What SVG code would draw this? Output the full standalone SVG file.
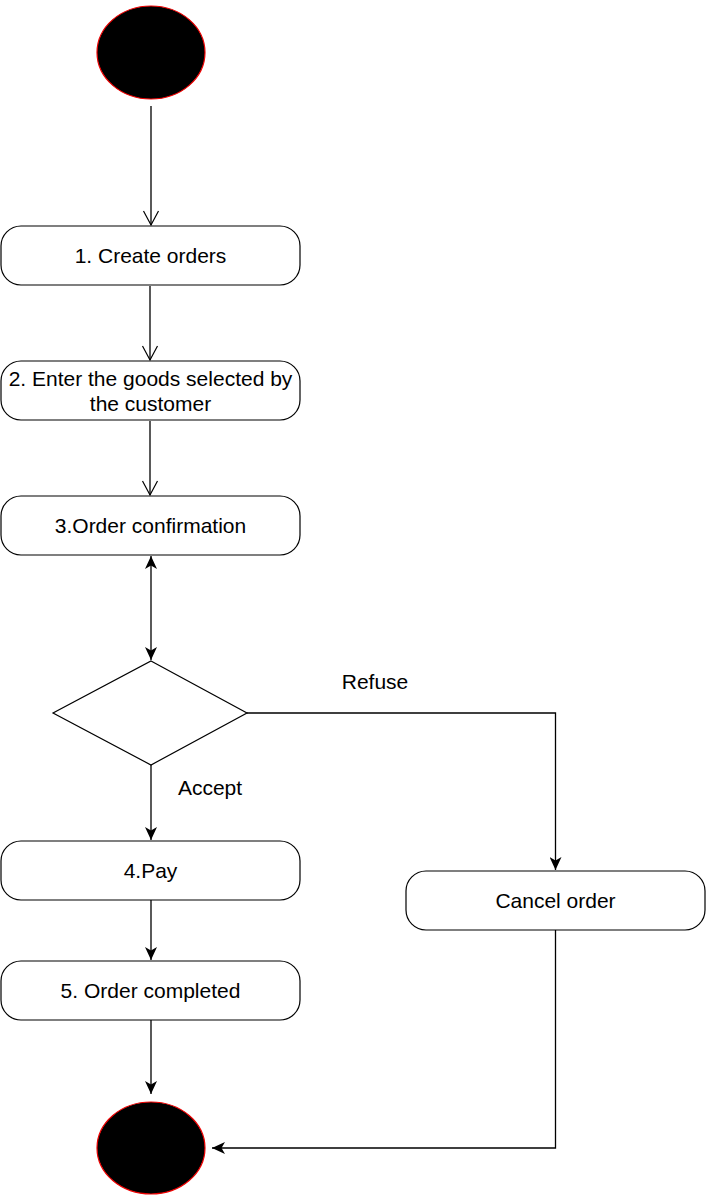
<svg xmlns="http://www.w3.org/2000/svg" width="707" height="1202" viewBox="0 0 707 1202">
<style>
.box{fill:#fff;stroke:#000;stroke-width:1.2}
.term{fill:#000;stroke:#e00;stroke-width:1.2}
.lbl{font-family:"Liberation Sans",Arial,sans-serif;font-size:21px;fill:#000;text-anchor:middle}
.edge{fill:none;stroke:#000;stroke-width:1.3}
</style>
<defs>
<marker id="open" markerUnits="userSpaceOnUse" viewBox="-1 -1 16 17" refX="14" refY="7.5" markerWidth="16" markerHeight="17" orient="auto" overflow="visible">
<path d="M0,0 L14,7.5 L0,15" fill="none" stroke="#000" stroke-width="1.2"/>
</marker>
<marker id="filled" markerUnits="userSpaceOnUse" viewBox="0 0 13 12" refX="13" refY="6" markerWidth="13" markerHeight="12" orient="auto-start-reverse">
<path d="M0,0 L13,6 L0,12 L3.5,6 Z" fill="#000"/>
</marker>
</defs>
<rect width="707" height="1202" fill="#fff"/>
<g id="connectors">
<path class="edge" d="M151,106 L151,225" marker-end="url(#open)"/>
<path class="edge" d="M150,286 L150,360" marker-end="url(#open)"/>
<path class="edge" d="M150,421 L150,495" marker-end="url(#open)"/>
<path class="edge" d="M151,556 L151,660" marker-start="url(#filled)" marker-end="url(#filled)"/>
<path class="edge" d="M151,765 L151,840" marker-end="url(#filled)"/>
<path class="edge" d="M247,713 L555.5,713 L555.5,870" marker-end="url(#filled)"/>
<path class="edge" d="M151,900 L151,960" marker-end="url(#filled)"/>
<path class="edge" d="M151,1020 L151,1094" marker-end="url(#filled)"/>
<path class="edge" d="M555.5,930 L555.5,1148 L212,1148" marker-end="url(#filled)"/>
<text class="lbl" x="375" y="689">Refuse</text>
<text class="lbl" x="210" y="795">Accept</text>
</g>
<g id="start"><ellipse class="term" cx="151" cy="52.5" rx="54" ry="46.5"/></g>
<g id="create"><rect class="box" x="1" y="226" width="299" height="59" rx="20"/><text class="lbl" x="150.5" y="263">1. Create orders</text></g>
<g id="enter"><rect class="box" x="1" y="361" width="299" height="59" rx="20"/><text class="lbl" x="150.5" y="386">2. Enter the goods selected by</text><text class="lbl" x="150.5" y="411">the customer</text></g>
<g id="confirm"><rect class="box" x="1" y="496" width="299" height="59" rx="20"/><text class="lbl" x="150.5" y="533">3.Order confirmation</text></g>
<g id="decision"><polygon class="box" points="151,661 247,713 151,765 53,713"/></g>
<g id="pay"><rect class="box" x="1" y="841" width="299" height="59" rx="20"/><text class="lbl" x="150.5" y="878">4.Pay</text></g>
<g id="completed"><rect class="box" x="1" y="961" width="299" height="59" rx="20"/><text class="lbl" x="150.5" y="998">5. Order completed</text></g>
<g id="cancel"><rect class="box" x="406" y="871" width="299" height="59" rx="20"/><text class="lbl" x="555.5" y="908">Cancel order</text></g>
<g id="end"><ellipse class="term" cx="151" cy="1148" rx="54" ry="46"/></g>
</svg>
